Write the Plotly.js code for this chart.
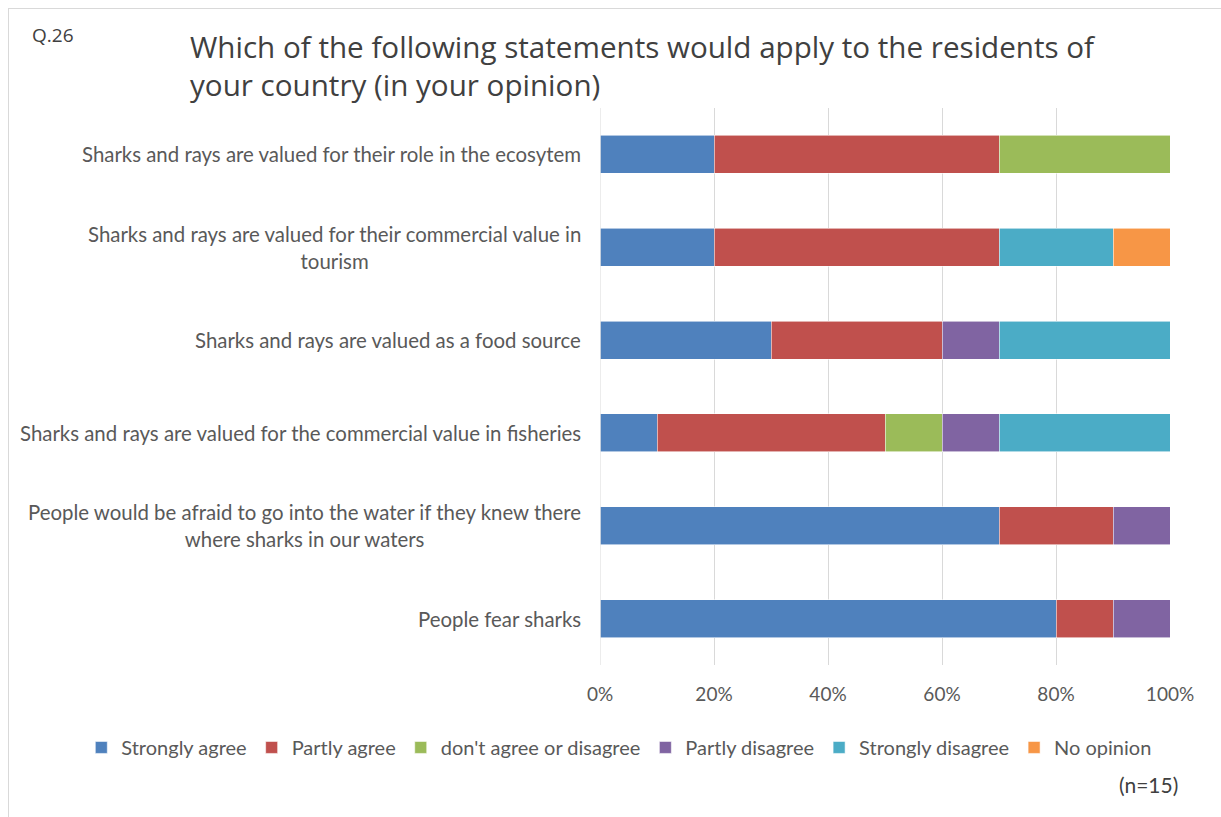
<!DOCTYPE html>
<html><head><meta charset="utf-8">
<script src="https://cdn.plot.ly/plotly-3.0.1.min.js"></script>
<style>
html,body{margin:0;padding:0;background:#fff;}
#frame{position:absolute;left:8px;top:8px;width:1220px;height:816px;border-left:1px solid #d9d9d9;border-top:1px solid #d9d9d9;}
#chart{position:absolute;left:0;top:0;width:1221px;height:817px;}
</style>
</head><body>
<div id="frame"></div>
<div id="chart"></div>
<script>
var categories = [
  "Sharks and rays are valued for their role in the ecosytem",
  "Sharks and rays are valued for their commercial value in<br>tourism",
  "Sharks and rays are valued as a food source",
  "Sharks and rays are valued for the commercial value in fisheries",
  "People would be afraid to go into the water if they knew there<br>where sharks in our waters",
  "People fear sharks"
];
var seriesNames = ["Strongly agree","Partly agree","don't agree or disagree","Partly disagree","Strongly disagree","No opinion"];
var stronglyAgree    = [0.20,0.20,0.30,0.10,0.70,0.80];
var partlyAgree      = [0.50,0.50,0.30,0.40,0.20,0.10];
var neither          = [0.30,0.00,0.00,0.10,0.00,0.00];
var partlyDisagree   = [0.00,0.00,0.10,0.10,0.10,0.10];
var stronglyDisagree = [0.00,0.20,0.30,0.30,0.00,0.00];
var noOpinion        = [0.00,0.10,0.00,0.00,0.00,0.00];
var tickVals = [0,0.2,0.4,0.6,0.8,1.0];
var tickText = ["0%","20%","40%","60%","80%","100%"];
var colors = ["#4F81BD","#C0504D","#9BBB59","#8064A2","#4BACC6","#F79646"];
var allSeries = [stronglyAgree,partlyAgree,neither,partlyDisagree,stronglyDisagree,noOpinion];

var font = "Lato, 'Liberation Sans Narrow', sans-serif";
var traces = allSeries.map(function(vals,i){
  return {type:'bar',orientation:'h',name:seriesNames[i],x:vals,y:categories,
    marker:{color:colors[i],line:{color:'rgba(255,255,255,0.7)',width:0.8}},hoverinfo:'x+name'};
});

var annotations = categories.map(function(c){
  return {xref:'paper',yref:'y',x:-0.03,y:c,xanchor:'right',yanchor:'middle',align:'center',
    text:c,showarrow:false,font:{family:font,size:20.4,color:'#595959'}};
});
annotations.push({xref:'paper',yref:'paper',x:-1.0,y:1.131,xanchor:'left',yanchor:'middle',showarrow:false,
  text:'Q.26',font:{family:"'Open Sans', sans-serif",size:19,color:'#404040'}});
annotations.push({xref:'paper',yref:'paper',x:1.018,y:-0.214,xanchor:'right',yanchor:'middle',showarrow:false,
  text:'(n=15)',font:{family:font,size:21,color:'#404040'}});

var layout = {
  width:1221,height:817,
  margin:{l:600,r:51,t:108,b:152},
  paper_bgcolor:'rgba(0,0,0,0)',plot_bgcolor:'rgba(0,0,0,0)',
  barmode:'stack',bargap:0.59,
  showlegend:true,
  title:{text:'Which of the following statements would apply to the residents of<br>your country (in your opinion)',
    xref:'container',yref:'container',x:190/1221,xanchor:'left',y:1-58/817,yanchor:'top',
    font:{family:"'Open Sans', sans-serif",size:29.6,color:'#404040'}},
  xaxis:{range:[0,1],tickvals:tickVals,ticktext:tickText,showgrid:true,gridcolor:'#d9d9d9',gridwidth:1,
    zeroline:false,showline:false,ticks:'',ticklen:0,ticklabelstandoff:16,tickfont:{family:font,size:19,color:'#595959'},fixedrange:true},
  yaxis:{type:'category',autorange:'reversed',showticklabels:false,showgrid:false,zeroline:false,showline:false,ticks:'',fixedrange:true},
  legend:{orientation:'h',x:-0.91,xanchor:'left',y:-0.148,yanchor:'middle',traceorder:'normal',
    font:{family:font,size:20,color:'#595959'},itemwidth:30},
  shapes:[{type:'line',xref:'x',yref:'paper',x0:0,x1:0,y0:0,y1:1,line:{color:'#d9d9d9',width:1}}],
  annotations:annotations
};
Plotly.newPlot('chart',traces,layout,{displayModeBar:false,staticPlot:true});
</script>
</body></html>
